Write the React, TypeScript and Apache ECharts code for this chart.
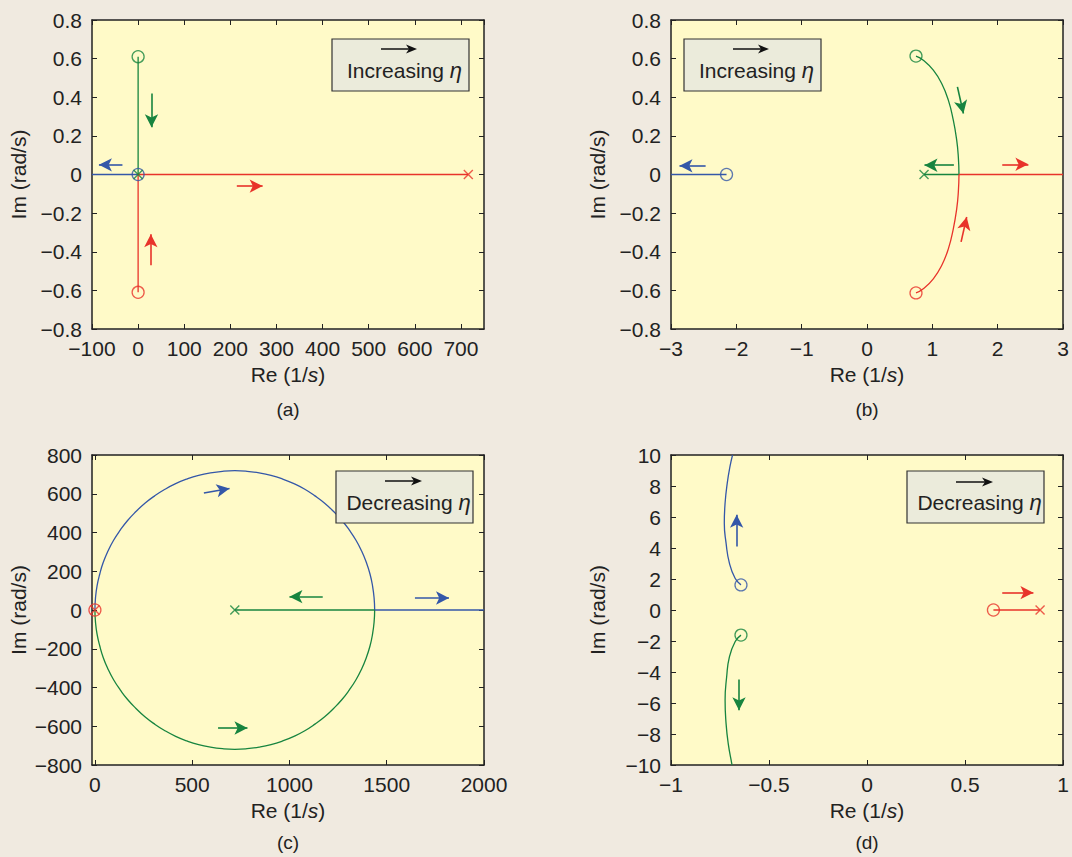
import React, { useEffect, useRef } from 'react';
import * as echarts from 'echarts';

const FONT = '"Liberation Sans", Arial, Helvetica, sans-serif';
const BLUE = '#3457a8';
const GREEN = '#17843f';
const RED = '#e8332a';
const INK = '#222222';
const PAGE_BG = '#f0eae0';
const PLOT_BG = '#fffac8';
const BOX_BG = '#ebebdb';
const FS = 21;

// ---------- Panel (a) ----------
const aX = { min: -100, max: 750, interval: 100 };
const aY = { min: -0.8, max: 0.8, interval: 0.2 };
const aRedPath = [[0, -0.61], [0, 0], [716, 0]];
const aGreenPath = [[0, 0.61], [0, 0]];
const aBluePath = [[0, 0], [-100, 0]];
const aRedCircles = [[0, -0.61]];
const aGreenCircles = [[0, 0.61]];
const aBlueCircles = [[0, 0]];
const aRedCrosses = [[716, 0]];
const aGreenCrosses = [[0, 0]];
const aRedArrows = [[[214, -0.06], [270, -0.06]], [[27.6, -0.47], [27.6, -0.31]]];
const aGreenArrows = [[[29, 0.42], [29, 0.245]]];
const aBlueArrows = [[[-34, 0.05], [-85, 0.05]]];

// ---------- Panel (b) ----------
const bX = { min: -3, max: 3, interval: 1 };
const bY = { min: -0.8, max: 0.8, interval: 0.2 };
const bBluePath = [[-3, 0], [-2.15, 0]];
const bGreenCurve = [[0.75, 0.613], [0.862, 0.592], [1.015, 0.54], [1.143, 0.471], [1.245, 0.385], [1.321, 0.281], [1.373, 0.178], [1.398, 0.091], [1.408, 0]];
const bGreenAxis = [[1.408, 0], [0.873, 0]];
const bRedCurve = [[0.75, -0.613], [0.862, -0.592], [1.015, -0.54], [1.143, -0.471], [1.245, -0.385], [1.321, -0.281], [1.373, -0.178], [1.398, -0.091], [1.408, 0]];
const bRedAxis = [[1.408, 0], [3, 0]];
const bBlueCircles = [[-2.15, 0]];
const bGreenCircles = [[0.75, 0.613]];
const bRedCircles = [[0.75, -0.613]];
const bGreenCrosses = [[0.873, 0]];
const bBlueArrows = [[[-2.47, 0.045], [-2.87, 0.045]]];
const bGreenArrows = [[[1.384, 0.454], [1.476, 0.316]], [[1.33, 0.048], [0.88, 0.048]]];
const bRedArrows = [[[2.07, 0.053], [2.47, 0.053]], [[1.44, -0.349], [1.526, -0.22]]];

// ---------- Panel (c) ----------
const cX = { min: -15, max: 2000, splitNumber: 4 };
const cY = { min: -800, max: 800, interval: 200 };
const cBlueArc = [
  [0, 0], [3, 63], [11, 125], [25, 186], [43, 246], [67, 304], [96, 360], [130, 412], [168, 462],
  [211, 508], [257, 551], [307, 589], [360, 623], [415, 652], [473, 676], [533, 695], [594, 708],
  [656, 716], [719, 719], [782, 716], [844, 708], [905, 695], [965, 676], [1023, 652], [1079, 623],
  [1131, 589], [1181, 551], [1227, 508], [1270, 462], [1308, 412], [1342, 360], [1371, 304],
  [1395, 246], [1414, 186], [1427, 125], [1435, 63], [1438, 0],
];
const cGreenArc = [
  [1438, 0], [1435, -63], [1427, -125], [1414, -186], [1395, -246], [1371, -304], [1342, -360],
  [1308, -412], [1270, -462], [1227, -508], [1181, -551], [1131, -589], [1079, -623], [1023, -652],
  [965, -676], [905, -695], [844, -708], [782, -716], [719, -719], [656, -716], [594, -708],
  [533, -695], [473, -676], [415, -652], [360, -623], [307, -589], [257, -551], [211, -508],
  [168, -462], [130, -412], [96, -360], [67, -304], [43, -246], [25, -186], [11, -125], [3, -63], [0, 0],
];
const cBlueAxis = [[1438, 0], [2000, 0]];
const cGreenAxis = [[719, 0], [1438, 0]];
const cRedCircles = [[0, 0]];
const cRedCrosses = [[0, 0]];
const cGreenCrosses = [[719, 0]];
const cBlueArrows = [[[560, 604], [692, 627]], [[1645, 62], [1820, 62]]];
const cGreenArrows = [[[1171, 69], [1000, 69]], [[633, -609], [784, -609]]];

// ---------- Panel (d) ----------
const dX = { min: -1, max: 1, interval: 0.5 };
const dY = { min: -10, max: 10, interval: 2 };
const dBlueCurve = [[-0.643, 1.62], [-0.673, 2.05], [-0.702, 3.02], [-0.719, 4.31], [-0.728, 5.6], [-0.724, 6.9], [-0.713, 8.19], [-0.699, 9.26], [-0.686, 10]];
const dGreenCurve = [[-0.643, -1.62], [-0.673, -2.05], [-0.702, -3.02], [-0.716, -4.31], [-0.724, -5.82], [-0.719, -7.33], [-0.708, -8.62], [-0.69, -9.91], [-0.688, -10]];
const dRedPath = [[0.645, 0], [0.883, 0]];
const dBlueCircles = [[-0.643, 1.62]];
const dGreenCircles = [[-0.643, -1.62]];
const dRedCircles = [[0.645, 0]];
const dRedCrosses = [[0.883, 0]];
const dBlueArrows = [[[-0.665, 4.09], [-0.665, 6.14]]];
const dGreenArrows = [[[-0.653, -4.48], [-0.653, -6.46]]];
const dRedArrows = [[[0.69, 1.12], [0.849, 1.12]]];

const panelLabels = ['(a)', '(b)', '(c)', '(d)'];
const boxTexts = ['Increasing', 'Increasing', 'Decreasing', 'Decreasing'];

const GRIDS = [
  { left: 92, top: 20, width: 392, height: 309 },
  { left: 671, top: 20, width: 392, height: 309 },
  { left: 92, top: 455, width: 392, height: 310 },
  { left: 671, top: 455, width: 392, height: 310 },
];

const fmt = (v: number) => (v < 0 ? '\u2212' + String(Math.abs(v)) : String(v));

function buildAxes(ranges: any[]) {
  const xAxis: any[] = [];
  const yAxis: any[] = [];
  const common = {
    type: 'value',
    splitLine: { show: false },
    axisLine: { show: true, onZero: false, lineStyle: { color: INK, width: 1.5 } },
    axisTick: { show: true, inside: true, length: 5, lineStyle: { color: INK, width: 1 } },
  };
  ranges.forEach(([xr, yr]: any, gi: number) => {
    xAxis.push({
      ...common, ...xr, gridIndex: gi, position: 'bottom',
      axisLabel: { color: INK, fontSize: FS, fontFamily: FONT, margin: 9, formatter: fmt, showMaxLabel: gi !== 0, showMinLabel: gi !== 2 },
      name: 'Re (1/{i|s})', nameLocation: 'middle', nameGap: 35,
      nameTextStyle: { color: INK, fontSize: FS, fontFamily: FONT, rich: { i: { fontStyle: 'italic', fontSize: FS, fontFamily: FONT, color: INK } } },
    });
    xAxis.push({ ...common, ...xr, gridIndex: gi, position: 'top', axisLabel: { show: false } });
    yAxis.push({
      ...common, ...yr, gridIndex: gi, position: 'left',
      axisLabel: { color: INK, fontSize: FS, fontFamily: FONT, margin: 10, formatter: fmt },
      name: 'Im (rad/s)', nameLocation: 'middle', nameGap: 63, nameRotate: 90,
      nameTextStyle: { color: INK, fontSize: FS, fontFamily: FONT },
    });
    yAxis.push({ ...common, ...yr, gridIndex: gi, position: 'right', axisLabel: { show: false } });
  });
  return { xAxis, yAxis };
}

function pathSeries(gi: number, data: number[][], color: string, smooth: any = false, arrows: any[] = []) {
  const s: any = {
    type: 'line', xAxisIndex: gi * 2, yAxisIndex: gi * 2, data, smooth,
    symbol: 'none', showSymbol: false, silent: true,
    lineStyle: { color, width: 1.3 }, itemStyle: { color }, z: 3,
  };
  if (arrows.length) {
    s.markLine = {
      silent: true, symbol: ['none', 'arrow'], symbolSize: [10, 13],
      label: { show: false },
      lineStyle: { color, width: 1.6, type: 'solid' },
      data: arrows.map((a: number[][]) => [{ coord: a[0] }, { coord: a[1] }]),
    };
  }
  return s;
}

function circleSeries(gi: number, data: number[][], color: string) {
  return {
    type: 'scatter', xAxisIndex: gi * 2, yAxisIndex: gi * 2, data, silent: true,
    symbol: 'circle', symbolSize: 12, z: 4,
    itemStyle: { color: 'rgba(0,0,0,0)', borderColor: color, borderWidth: 1.3 },
  };
}

function crossSeries(gi: number, data: number[][], color: string) {
  return {
    type: 'scatter', xAxisIndex: gi * 2, yAxisIndex: gi * 2, data, silent: true,
    symbol: 'path://M0,0L10,10M10,0L0,10', symbolSize: 9, z: 4,
    itemStyle: { color: 'none', borderColor: color, borderWidth: 1.4 },
  };
}

const BOXES = [
  { x: 332, y: 39, w: 137, h: 52, ax1: 381, ax2: 417, ay: 49 },
  { x: 684, y: 39, w: 137, h: 52, ax1: 733, ax2: 769, ay: 49 },
  { x: 336, y: 471, w: 137, h: 52, ax1: 385, ax2: 422, ay: 481 },
  { x: 907, y: 471, w: 137, h: 52, ax1: 956, ax2: 993, ay: 482 },
];

function buildGraphics() {
  const els: any[] = [];
  BOXES.forEach((b, i) => {
    els.push({ type: 'rect', shape: { x: b.x, y: b.y, width: b.w, height: b.h }, style: { fill: BOX_BG, stroke: '#333', lineWidth: 1.2 }, z: 10 });
    els.push({ type: 'line', shape: { x1: b.ax1, y1: b.ay, x2: b.ax2 - 6, y2: b.ay }, style: { stroke: '#111', lineWidth: 1.5 }, z: 11 });
    els.push({ type: 'polygon', shape: { points: [[b.ax2 - 11, b.ay - 4.5], [b.ax2, b.ay], [b.ax2 - 11, b.ay + 4.5], [b.ax2 - 8, b.ay]] }, style: { fill: '#111' }, z: 11 });
    els.push({
      type: 'text', x: b.x + b.w / 2 + 4, y: b.y + 31, z: 11,
      style: {
        text: boxTexts[i] + ' {i|\u03b7}', fill: '#222', font: '21px ' + FONT,
        align: 'center', verticalAlign: 'middle',
        rich: { i: { fontStyle: 'italic', fontSize: 22, fontFamily: FONT, fill: '#222' } },
      },
    });
  });
  GRIDS.forEach((g, i) => {
    els.push({
      type: 'text', x: g.left + g.width / 2, y: i < 2 ? 409 : 842, z: 11,
      style: { text: panelLabels[i], fill: '#222', font: '19px ' + FONT, align: 'center', verticalAlign: 'middle' },
    });
  });
  return els;
}

export default function App() {
  const ref = useRef<HTMLDivElement>(null);
  useEffect(() => {
    if (!ref.current) return;
    const chart = echarts.init(ref.current, null, { renderer: 'svg' });
    const { xAxis, yAxis } = buildAxes([[aX, aY], [bX, bY], [cX, cY], [dX, dY]]);
    const series: any[] = [
      // (a)
      pathSeries(0, aBluePath, BLUE, false, aBlueArrows),
      pathSeries(0, aGreenPath, GREEN, false, aGreenArrows),
      pathSeries(0, aRedPath, RED, false, aRedArrows),
      circleSeries(0, aBlueCircles, BLUE),
      circleSeries(0, aGreenCircles, GREEN),
      circleSeries(0, aRedCircles, RED),
      crossSeries(0, aGreenCrosses, GREEN),
      crossSeries(0, aRedCrosses, RED),
      // (b)
      pathSeries(1, bBluePath, BLUE, false, bBlueArrows),
      pathSeries(1, bGreenCurve, GREEN, true, bGreenArrows),
      pathSeries(1, bGreenAxis, GREEN),
      pathSeries(1, bRedCurve, RED, true, bRedArrows),
      pathSeries(1, bRedAxis, RED),
      circleSeries(1, bBlueCircles, BLUE),
      circleSeries(1, bGreenCircles, GREEN),
      circleSeries(1, bRedCircles, RED),
      crossSeries(1, bGreenCrosses, GREEN),
      // (c)
      pathSeries(2, cBlueArc, BLUE, true, cBlueArrows),
      pathSeries(2, cGreenArc, GREEN, true, cGreenArrows),
      pathSeries(2, cBlueAxis, BLUE),
      pathSeries(2, cGreenAxis, GREEN),
      crossSeries(2, cGreenCrosses, GREEN),
      circleSeries(2, cRedCircles, RED),
      crossSeries(2, cRedCrosses, RED),
      // (d)
      pathSeries(3, dBlueCurve, BLUE, true, dBlueArrows),
      pathSeries(3, dGreenCurve, GREEN, true, dGreenArrows),
      pathSeries(3, dRedPath, RED, false, dRedArrows),
      circleSeries(3, dBlueCircles, BLUE),
      circleSeries(3, dGreenCircles, GREEN),
      circleSeries(3, dRedCircles, RED),
      crossSeries(3, dRedCrosses, RED),
    ];
    chart.setOption({
      animation: false,
      backgroundColor: PAGE_BG,
      textStyle: { fontFamily: FONT },
      grid: GRIDS.map((g) => ({ ...g, show: true, backgroundColor: PLOT_BG, borderWidth: 0, containLabel: false })),
      xAxis,
      yAxis,
      series,
      graphic: buildGraphics(),
    });
    return () => chart.dispose();
  }, []);
  return (
    <div
      ref={ref}
      style={{ position: 'absolute', left: 0, top: 0, width: 1072, height: 857, background: PAGE_BG }}
    />
  );
}
